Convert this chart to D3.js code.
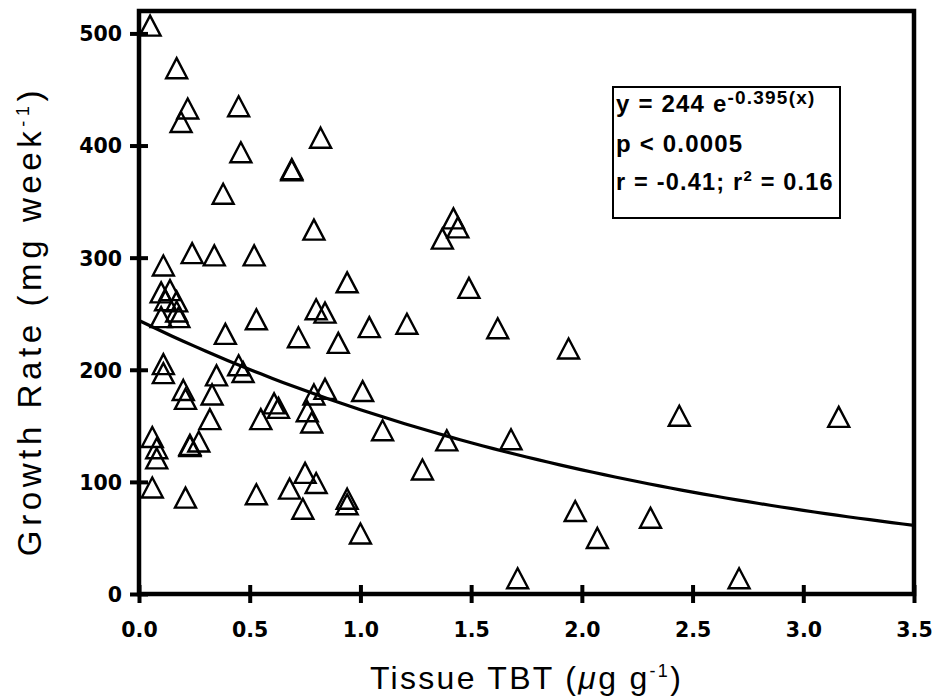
<!DOCTYPE html>
<html><head><meta charset="utf-8">
<script src="https://cdn.jsdelivr.net/npm/d3@7"></script>
<style>body{margin:0;background:#fff}</style>
</head><body>
<svg id="chart" width="935" height="696"></svg>
<script>
// ---- data ----
const tbt = [0.05,0.17,0.22,0.19,0.45,0.46,0.38,0.69,0.69,0.82,0.79,
  0.11,0.24,0.34,0.52,0.10,0.14,0.12,0.17,0.10,0.18,0.17,0.39,0.53,0.72,0.80,0.84,0.90,0.94,
  1.04,1.21,1.62,1.94,1.42,1.44,1.37,1.49,
  0.11,0.11,0.20,0.21,0.35,0.33,0.45,0.47,0.32,0.06,0.08,0.08,0.23,0.23,0.27,
  0.61,0.63,0.55,0.79,0.84,0.76,0.78,1.01,1.10,1.39,1.68,1.28,
  0.06,0.21,0.53,0.68,0.75,0.80,0.74,0.94,0.94,1.00,1.97,2.07,1.71,2.44,3.16,2.31,2.71];
const growth = [507,469,433,421,435,394,357,378,379,407,325,
  293,304,302,302,269,271,262,261,247,247,252,232,245,229,254,251,224,278,
  238,241,237,219,335,327,317,273,
  205,197,182,174,195,178,204,198,156,140,130,121,132,133,136,
  170,166,156,178,183,163,153,181,146,137,138,111,
  95,86,89,94,108,99,76,85,80,54,74,50,14,159,158,68,14];
const xTicks = [0,0.5,1.0,1.5,2.0,2.5,3.0,3.5];
const xTickLabels = ["0.0","0.5","1.0","1.5","2.0","2.5","3.0","3.5"];
const yTicks = [0,100,200,300,400,500];
const yTickLabels = ["0","100","200","300","400","500"];
const fitA = 244, fitB = -0.395;   // y = 244 e^(-0.395 x)
const fitLine1 = ["y = 244 e", "-0.395(x)"];
const fitLine2 = "p < 0.0005";
const fitLine3 = ["r = -0.41; r", "2", " = 0.16"];

// ---- drawing ----
const svg = d3.select("#chart");
const L = 139, R = 914, T = 11, B = 594;
const x = d3.scaleLinear().domain([0, 3.5]).range([L, R]);
const y = d3.scaleLinear().domain([0, 520]).range([B, T]);

// frame
svg.append("rect").attr("x", L).attr("y", T).attr("width", R - L).attr("height", B - T)
  .attr("fill", "none").attr("stroke", "#000").attr("stroke-width", 4.5);

// x axis
const gx = svg.append("g").attr("transform", `translate(0,${B})`)
  .call(d3.axisBottom(x).tickValues(xTicks).tickFormat((d, i) => xTickLabels[i]).tickSize(9));
gx.select(".domain").remove();
gx.selectAll(".tick line").attr("y1", -9).attr("y2", 9).attr("stroke", "#000").attr("stroke-width", 4);
gx.selectAll(".tick text").attr("y", 43).attr("dy", null)
  .attr("font-family", "DejaVu Sans").attr("font-weight", "bold").attr("font-size", 20.5).attr("fill", "#000");

// y axis
const gy = svg.append("g").attr("transform", `translate(${L},0)`)
  .call(d3.axisLeft(y).tickValues(yTicks).tickFormat((d, i) => yTickLabels[i]).tickSize(9));
gy.select(".domain").remove();
gy.selectAll(".tick line").attr("x1", -9).attr("x2", 9).attr("stroke", "#000").attr("stroke-width", 4);
gy.selectAll(".tick text").attr("x", -17).attr("dy", "0.36em")
  .attr("font-family", "DejaVu Sans").attr("font-weight", "bold").attr("font-size", 20.5).attr("fill", "#000");

// fitted curve
const xs = d3.range(0, 3.5001, 0.05);
svg.append("path")
  .attr("d", d3.line().x(d => x(d)).y(d => y(fitA * Math.exp(fitB * d)))(xs))
  .attr("fill", "none").attr("stroke", "#000").attr("stroke-width", 3.2);

// points (open triangles)
const tri = "M0,-10L10.5,10L-10.5,10Z";
svg.append("g").selectAll("path").data(tbt).join("path")
  .attr("d", tri)
  .attr("transform", (d, i) => `translate(${x(d)},${y(growth[i])})`)
  .attr("fill", "none").attr("stroke", "#000").attr("stroke-width", 2.4);

// legend box
const lg = svg.append("g").attr("font-family", "Liberation Sans, Arial, sans-serif")
  .attr("font-weight", "bold").attr("fill", "#000").attr("letter-spacing", 1.2);
lg.append("rect").attr("x", 613).attr("y", 87).attr("width", 227).attr("height", 131)
  .attr("fill", "#fff").attr("stroke", "#000").attr("stroke-width", 2);
const t1 = lg.append("text").attr("x", 616).attr("y", 112).attr("font-size", 24);
t1.append("tspan").text(fitLine1[0]);
t1.append("tspan").attr("dy", -8).attr("font-size", 19).text(fitLine1[1]);
lg.append("text").attr("x", 616).attr("y", 152).attr("font-size", 24).text(fitLine2);
const t3 = lg.append("text").attr("x", 616).attr("y", 190).attr("font-size", 23.5);
t3.append("tspan").text(fitLine3[0]);
t3.append("tspan").attr("dy", -9).attr("font-size", 15).text(fitLine3[1]);
t3.append("tspan").attr("dy", 9).text(fitLine3[2]);

// axis titles
const xt = svg.append("text").attr("x", (L + R) / 2).attr("y", 689).attr("text-anchor", "middle")
  .attr("font-family", "Liberation Sans, Arial, sans-serif").attr("font-size", 32)
  .attr("letter-spacing", 2.3).attr("fill", "#000");
xt.append("tspan").text("Tissue TBT (");
xt.append("tspan").attr("font-style", "italic").text("μ");
xt.append("tspan").text("g g");
xt.append("tspan").attr("dy", -12).attr("font-size", 18).text("-1");
xt.append("tspan").attr("dy", 12).text(")");

const yt = svg.append("text").attr("transform", "translate(41,321) rotate(-90)").attr("text-anchor", "middle")
  .attr("font-family", "Liberation Sans, Arial, sans-serif").attr("font-size", 33)
  .attr("letter-spacing", 4.6).attr("fill", "#000");
yt.append("tspan").text("Growth Rate (mg week");
yt.append("tspan").attr("dy", -12).attr("font-size", 18).text("-1");
yt.append("tspan").attr("dy", 12).text(")");
</script>
</body></html>
